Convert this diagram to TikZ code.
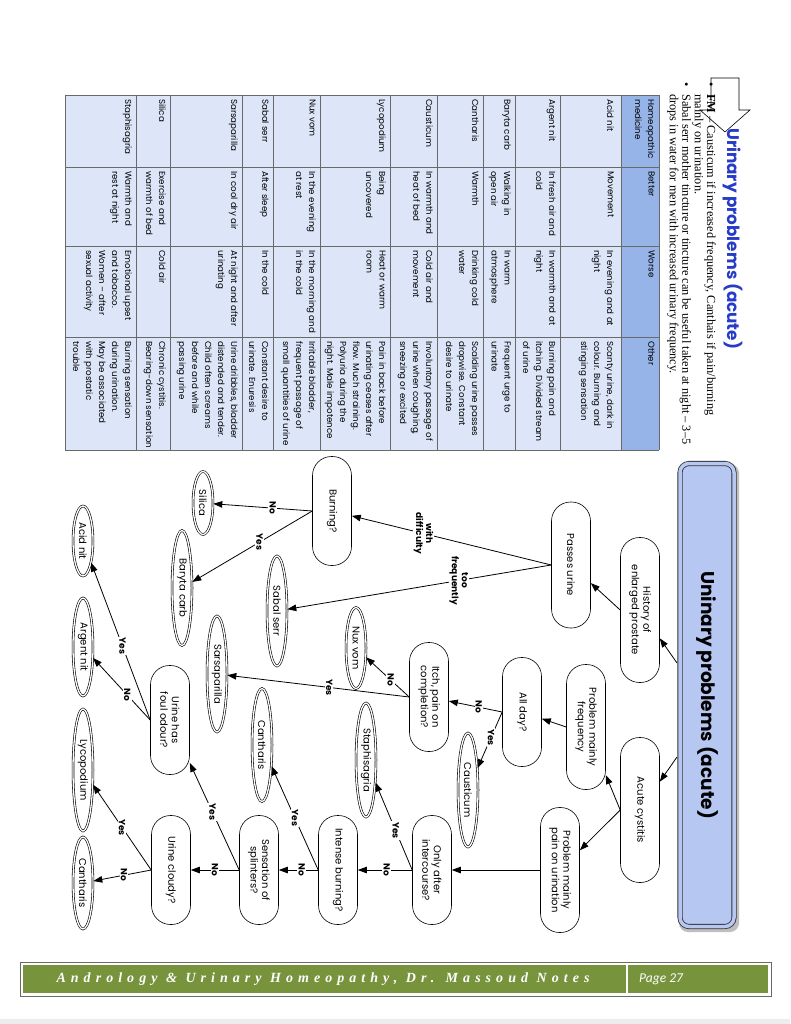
\documentclass[tikz,border=0pt]{standalone}
\usepackage{fontspec}
\setmainfont{Liberation Serif}
\newfontfamily\gothic{Poppins}
\newfontfamily\calibri{Carlito}
\usetikzlibrary{shapes.geometric, arrows.meta}

\definecolor{headingblue}{RGB}{38,60,200}
\definecolor{cellblue}{RGB}{220,230,248}
\definecolor{headerblue}{RGB}{151,180,232}
\definecolor{boxblue}{RGB}{182,200,242}
\definecolor{footgreen}{RGB}{119,147,60}
\definecolor{rulegray}{RGB}{105,105,105}

% one row of the remedy table: name, top edge, then the four cells
\newcommand{\tablerow}[6]{%
  \node[cell] (#1-med)    at (#2-4, 99)  {#3};
  \node[cell] (#1-better) at (#2-4, 171) {#4};
  \node[cell] (#1-worse)  at (#2-4, 250) {#5};
  \node[cell] (#1-other)  at (#2-4, 341) {#6};
}

\begin{document}
\begin{tikzpicture}[x=1pt, y=-1pt,
    cell/.style={rotate=-90, anchor=north west, align=left, inner sep=0pt,
      font=\gothic\fontsize{8.7}{13}\selectfont},
    question/.style={rectangle, rounded corners=19pt, draw, line width=0.6pt, fill=white,
      rotate=-90, align=center, minimum width=109pt, minimum height=39pt, inner sep=1pt,
      font=\gothic\fontsize{10}{11.5}\selectfont},
    remedy/.style={ellipse, draw, double, double distance=1.3pt, line width=0.6pt, fill=white,
      rotate=-90, minimum height=20pt, inner sep=0pt, font=\gothic\fontsize{10}{12}\selectfont},
    titlebox/.style={rectangle, rounded corners=9pt, draw=black!80, line width=0.8pt,
      double=boxblue, double distance=3.5pt, fill=boxblue, rotate=-90,
      minimum width=463pt, minimum height=54pt,
      font=\gothic\bfseries\fontsize{18.5}{20}\selectfont},
    link/.style={line width=0.8pt, -{Triangle[length=9pt, width=6.5pt]}},
    answer/.style={fill=white, inner sep=1pt, rotate=-90, align=center,
      font=\gothic\bfseries\fontsize{9}{10}\selectfont},
  ]

  % Page and its fixed size
  \fill[white] (0,0) rectangle (790,1024);
  \useasboundingbox (0,0) rectangle (790,1024);
  \fill[black!7] (0,1019) rectangle (790,1024);

  % Heading with its block arrow
  \draw[line width=0.6pt, fill=white] (711,78) -- (739,78) -- (739,110) -- (750,110)
    -- (725,132) -- (700,110) -- (711,110) -- cycle;
  \node[rotate=-90, anchor=west, text=headingblue, inner sep=0pt,
    font=\gothic\bfseries\fontsize{16.8}{18}\selectfont] (heading) at (733,128)
    {Urinary problems (acute)};

  % Notes under the heading
  \node[rotate=-90, anchor=north west, align=left, inner sep=0pt,
    font=\fontsize{12.3}{12.4}\selectfont] (notes) at (716,82)
    {\makebox[12pt][l]{\textbullet}\textbf{FM} – Causticum if increased frequency, Canthais if pain/burning\\
     \hspace*{12pt}mainly on urination.\\
     \makebox[12pt][l]{\textbullet}Sabal serr mother tincture or tincture can be useful taken at night – 3–5\\
     \hspace*{12pt}drops in water for men with increased urinary frequency.};

  % Remedy table: fills, then rules
  \fill[cellblue] (65,95) rectangle (621,450);
  \fill[headerblue] (621,95) rectangle (659,450);
  \foreach \x in {65,136,170,242,273,320,390,437,483,515,560,621,659}
    \draw[rulegray, line width=0.5pt] (\x,95) -- (\x,450);
  \foreach \y in {95,167,246,337,450}
    \draw[rulegray, line width=0.5pt] (65,\y) -- (659,\y);

  % Table text, one row at a time
  \tablerow{head}{659}{Homeopathic\\medicine}{Better}{Worse}{Other}
  \tablerow{acid}{618}{Acid nit}{Movement}{In evening and at\\night}{Scanty urine, dark in\\colour. Burning and\\stinging sensation}
  \tablerow{argent}{560}{Argent nit}{In fresh air and\\cold}{In warmth and at\\night}{Burning pain and\\itching. Divided stream\\of urine}
  \tablerow{baryta}{515}{Baryta carb}{Walking in\\open air}{In warm\\atmosphere}{Frequent urge to\\urinate}
  \tablerow{canth}{483}{Cantharis}{Warmth}{Drinking cold\\water}{Scalding urine passes\\dropwise. Constant\\desire to urinate}
  \tablerow{caust}{437}{Causticum}{In warmth and\\heat of bed}{Cold air and\\movement}{Involuntary passage of\\urine when coughing,\\sneezing or excited}
  \tablerow{lyco}{390}{Lycopodium}{Being\\uncovered}{Heat or warm\\room}{Pain in back before\\urinating ceases after\\flow. Much straining.\\Polyuria during the\\night. Male impotence}
  \tablerow{nux}{320}{Nux vom}{In the evening\\at rest}{In the morning and\\in the cold}{Irritable bladder,\\frequent passage of\\small quantities of urine}
  \tablerow{sabal}{273}{Sabal serr}{After sleep}{In the cold}{Constant desire to\\urinate. Enuresis}
  \tablerow{sarsa}{242}{Sarsaparilla}{In cool dry air}{At night and after\\urinating}{Urine dribbles, bladder\\distended and tender.\\Child often screams\\before and while\\passing urine}
  \tablerow{silica}{170}{Silica}{Exercise and\\warmth of bed}{Cold air}{Chronic cystitis.\\Bearing-down sensation}
  \tablerow{staph}{136}{Staphisagria}{Warmth and\\rest at night}{Emotional upset\\and tobacco.\\Women – after\\sexual activity}{Burning sensation\\during urination.\\May be associated\\with prostatic\\trouble}

  % Flowchart title box with its shadow
  \fill[black!25, rounded corners=9pt] (679,464) rectangle (739,932);
  \node[titlebox] (title) at (707,695) {Uninary problems (acute)};
  \coordinate (t1) at (677,663);
  \coordinate (t2) at (677,757);

  % Questions
  \node[question, minimum width=145pt] (hist) at (640,610) {History of\\enlarged prostate};
  \node[question, minimum width=126pt] (pass) at (571,565) {Passes urine};
  \node[question, minimum width=145pt] (acute) at (640,810) {Acute cystitis};
  \node[question, minimum width=125pt] (pmf) at (586,727) {Problem mainly\\frequency};
  \node[question, minimum width=125pt] (pmpu) at (560,870) {Problem mainly\\pain on urination};
  \node[question] (allday) at (522,712) {All day?};
  \node[question] (itch) at (429,697) {Itch, pain on\\completion?};
  \node[question] (burn) at (332,511) {Burning?};
  \node[question] (only) at (432,870) {Only after\\intercourse?};
  \node[question] (intense) at (338,870) {Intense burning?};
  \node[question] (splint) at (259,870) {Sensation of\\splinters?};
  \node[question] (cloudy) at (171,870) {Urine cloudy?};
  \node[question] (foul) at (170,720) {Urine has\\foul odour?};

  % Remedies
  \node[remedy, minimum width=63pt] (silica) at (203,503) {Silica};
  \node[remedy, minimum width=115pt] (baryta) at (182,588) {Baryta carb};
  \node[remedy, minimum width=70pt] (acidnit) at (83,541) {Acid nit};
  \node[remedy, minimum width=98pt] (argent) at (83,647) {Argent nit};
  \node[remedy, minimum width=122pt] (lyco) at (83,770) {Lycopodium};
  \node[remedy, minimum width=92pt] (canthlow) at (83,883) {Cantharis};
  \node[remedy, minimum width=110pt] (sabal) at (277,611) {Sabal serr};
  \node[remedy, minimum width=81pt] (nux) at (356,648) {Nux vom};
  \node[remedy, minimum width=116pt] (sarsa) at (217,674) {Sarsaparilla};
  \node[remedy, minimum width=113pt] (canthmid) at (262,745) {Cantharis};
  \node[remedy, minimum width=114pt] (staph) at (366,760) {Staphisagria};
  \node[remedy, minimum width=114pt] (caust) at (468,790) {Causticum};

  % Connectors, top branch
  \draw[link] (t1) -- (hist);
  \draw[link] (hist.south) -- (pass);
  \draw[link] (pass.south) -- node[answer, pos=0.64] {with\\difficulty} (burn);
  \draw[link] (pass.south) -- node[answer, pos=0.35] {too\\frequently} (sabal);
  \draw[link] (burn.south) -- node[answer, pos=0.4] {No} (silica);
  \draw[link] (burn.south) -- node[answer, pos=0.44] {Yes} (baryta);

  % Connectors, acute cystitis branch
  \draw[link] (t2) -- (acute);
  \draw[link] (acute.south) -- (pmf);
  \draw[link] (acute.south) -- (pmpu);
  \draw[link] (pmf.south) -- (allday);
  \draw[link] (allday.south) -- node[answer, pos=0.44] {No} (itch);
  \draw[link] (allday.south) -- node[answer, pos=0.45] {Yes} (caust);
  \draw[link] (itch.south) -- node[answer, pos=0.43] {No} (nux);
  \draw[link] (itch.south) -- node[answer, pos=0.44] {Yes} (sarsa);
  \draw[link] (pmpu.south) -- (only);
  \draw[link] (only.south) -- node[answer, pos=0.45] {Yes} (staph);
  \draw[link] (only.south) -- node[answer, pos=0.47] {No} (intense);
  \draw[link] (intense.south) -- node[answer, pos=0.5] {Yes} (canthmid);
  \draw[link] (intense.south) -- node[answer, pos=0.42] {No} (splint);
  \draw[link] (splint.south) -- node[answer, pos=0.54] {Yes} (foul);
  \draw[link] (splint.south) -- node[answer, pos=0.5] {No} (cloudy);
  \draw[link] (foul.south) -- node[answer, pos=0.47] {Yes} (acidnit);
  \draw[link] (foul.south) -- node[answer, pos=0.4] {No} (argent);
  \draw[link] (cloudy.south) -- node[answer, pos=0.5] {Yes} (lyco);
  \draw[link] (cloudy.south) -- node[answer, pos=0.47] {No} (canthlow);

  % Footer band
  \draw[rulegray, line width=0.8pt] (20,962) rectangle (771,996);
  \fill[footgreen] (23,965) rectangle (768,993);
  \draw[white, line width=1.6pt] (627,965) -- (627,993);
  \node[text=white, inner sep=0pt,
    font=\bfseries\itshape\fontsize{14}{16}\selectfont\addfontfeatures{LetterSpace=36}]
    (foottext) at (323,979) {Andrology \& Urinary Homeopathy, Dr. Massoud Notes};
  \node[text=white, anchor=west, inner sep=0pt,
    font=\calibri\itshape\fontsize{13.5}{15}\selectfont] (pagenum) at (639,979) {Page 27};

\end{tikzpicture}
\end{document}
